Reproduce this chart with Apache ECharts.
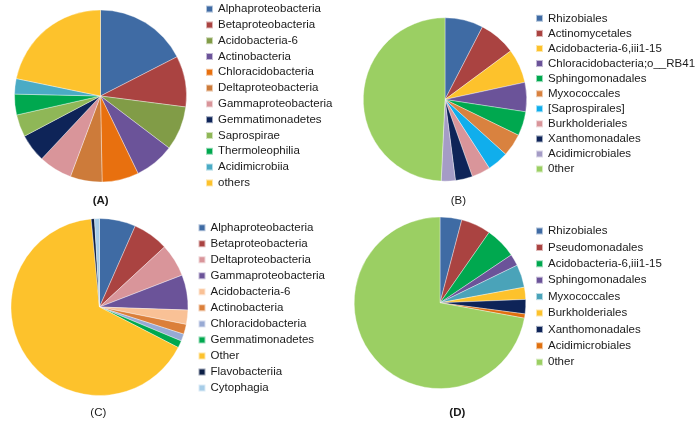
<!DOCTYPE html>
<html>
<head>
<meta charset="utf-8">
<script src="https://cdn.jsdelivr.net/npm/echarts@6/dist/echarts.min.js"></script>
<style>
html,body{margin:0;padding:0;background:#fff;}
#chart{width:700px;height:424px;}
</style>
</head>
<body>
<div id="chart"></div>
<script>
// ---- Data ----
const namesA = ['Alphaproteobacteria','Betaproteobacteria','Acidobacteria-6','Actinobacteria','Chloracidobacteria','Deltaproteobacteria','Gammaproteobacteria','Gemmatimonadetes','Saprospirae','Thermoleophilia','Acidimicrobiia','others'];
const valuesA = [17.5, 9.6, 8.3, 7.5, 6.9, 6.0, 6.3, 5.3, 4.2, 3.9, 2.9, 21.8];

const namesB = ['Rhizobiales','Actinomycetales','Acidobacteria-6,iii1-15','Chloracidobacteria;o__RB41','Sphingomonadales','Myxococcales','[Saprospirales]','Burkholderiales','Xanthomonadales','Acidimicrobiales','0ther'];
const valuesB = [7.6, 7.3, 6.8, 5.8, 4.8, 4.5, 4.2, 3.7, 3.4, 2.8, 49.4];

const namesC = ['Alphaproteobacteria','Betaproteobacteria','Deltaproteobacteria','Gammaproteobacteria','Acidobacteria-6','Actinobacteria','Chloracidobacteria','Gemmatimonadetes','Other','Flavobacteriia','Cytophagia'];
const valuesC = [6.6, 6.5, 6.0, 6.4, 2.6, 1.8, 1.3, 1.3, 65.8, 0.6, 0.9];

const namesD = ['Rhizobiales','Pseudomonadales','Acidobacteria-6,iii1-15','Sphingomonadales','Myxococcales','Burkholderiales','Xanthomonadales','Acidimicrobiales','0ther'];
const valuesD = [4.1, 5.6, 5.9, 2.2, 4.3, 2.3, 2.7, 0.8, 72.2];

const panelLabels = ['(A)','(B)','(C)','(D)'];

// ---- Styles ----
const colorsA = ['#3F6BA4','#AA4341','#819C47','#6B5399','#E8700F','#CD7B3A','#D9959A','#0E2458','#8FB757','#00A84F','#4AABC5','#FDC22C'];
const colorsB = ['#3F6BA4','#AA4341','#FDC22C','#6B5399','#00A84F','#D9823F','#10AEEC','#D9959A','#0E2458','#A59CC6','#9BCF63'];
const colorsC = ['#3F6BA4','#AA4341','#D9959A','#6B5399','#F9C196','#DB7F3A','#98AAD4','#00A84F','#FDC22C','#0C1F46','#A7CDE8'];
const colorsD = ['#3F6BA4','#AA4341','#00A84F','#6B5399','#4AA3B9','#FDC22C','#0E2458','#E0700F','#9BCF63'];

function mk(names, values) { return names.map((n, i) => ({ name: n, value: values[i] })); }

const panels = [
  { id: 'A', names: namesA, values: valuesA, colors: colorsA, center: [100.5, 96], r: 86,
    legend: { left: 205, top: 1.2, pitch: 15.8 }, label: [100.7, 201, 'bold'] },
  { id: 'B', names: namesB, values: valuesB, colors: colorsB, center: [445, 99.5], r: 81.7,
    legend: { left: 535, top: 10.8, pitch: 15.07 }, label: [458.3, 201, 'normal'] },
  { id: 'C', names: namesC, values: valuesC, colors: colorsC, center: [99.5, 307], r: 88.5,
    legend: { left: 197.5, top: 219.7, pitch: 16.03 }, label: [98.3, 413, 'normal'] },
  { id: 'D', names: namesD, values: valuesD, colors: colorsD, center: [440, 302.8], r: 85.8,
    legend: { left: 535, top: 222.8, pitch: 16.4 }, label: [457.3, 413, 'bold'] }
];

const series = [], legends = [], graphics = [];
panels.forEach((p, idx) => {
  const data = mk(p.names, p.values).map((d, i) => ({ ...d, itemStyle: { color: p.colors[i] } }));
  series.push({
    type: 'pie',
    name: p.id,
    center: p.center,
    radius: [0, p.r],
    startAngle: 90,
    clockwise: true,
    avoidLabelOverlap: false,
    label: { show: false },
    labelLine: { show: false },
    emphasis: { disabled: true },
    itemStyle: { borderColor: 'rgba(255,255,255,0.6)', borderWidth: 0.6 },
    data: data
  });
  legends.push({
    orient: 'vertical',
    left: p.legend.left,
    top: p.legend.top,
    padding: 0,
    itemGap: 0,
    itemWidth: 7,
    itemHeight: 7,
    icon: 'rect',
    selectedMode: false,
    data: p.names.map((n, i) => ({ name: n, itemStyle: { color: p.colors[i] } })),
    textStyle: { fontFamily: 'Liberation Sans, Arial, sans-serif', fontSize: 11.5, color: '#1a1a1a', lineHeight: p.legend.pitch, height: p.legend.pitch }
  });
  graphics.push({
    type: 'text',
    x: p.label[0], y: p.label[1],
    style: {
      text: panelLabels[idx],
      fontFamily: 'Liberation Sans, Arial, sans-serif',
      fontSize: 11.5,
      fontWeight: p.label[2],
      fill: '#1a1a1a',
      textAlign: 'center',
      textVerticalAlign: 'middle'
    }
  });
});

const chart = echarts.init(document.getElementById('chart'));
chart.setOption({
  animation: false,
  backgroundColor: '#fff',
  legend: legends,
  series: series,
  graphic: graphics
});
</script>
</body>
</html>
